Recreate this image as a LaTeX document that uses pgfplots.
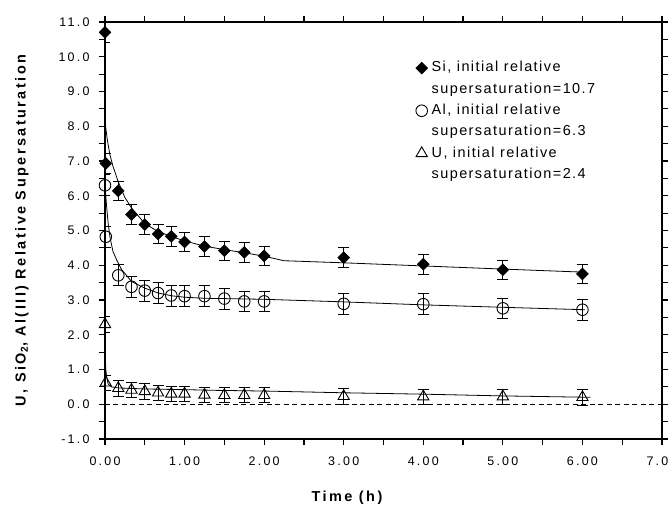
\documentclass[border=0pt]{standalone}
\usepackage{fontspec}
\setmainfont{Liberation Sans}
\usepackage{pgfplots}
\pgfplotsset{compat=1.18}
\begin{document}
\begin{tikzpicture}
\path (-105bp,-73bp) rectangle (566bp,439bp);
\begin{axis}[
 at={(0,0)}, anchor=south west,
 scale only axis, width=557bp, height=417bp,
 xmin=0, xmax=7, ymin=-1, ymax=11,
 xtick={0,1,...,7}, ytick={-1,0,...,11},
 minor x tick num=1, minor y tick num=1,
 tick align=outside, major tick length=6bp, minor tick length=6bp,
 every tick/.style={black, line width=1.2bp},
 axis line style={line width=1.6bp},
 /pgf/number format/assume math mode=true,
 x tick label style={/pgf/number format/.cd, fixed, fixed zerofill, precision=2, /tikz/.cd, overlay, yshift=-8bp},
 y tick label style={/pgf/number format/.cd, fixed, fixed zerofill, precision=1, /tikz/.cd, xshift=-6bp},
 tick label style={font=\fontsize{12.5}{14}\selectfont\addfontfeatures{LetterSpace=18}},
 xlabel={Time (h)},
 ylabel={U, SiO\textsubscript{2}, Al(III) Relative Supersaturation},
 label style={font=\fontsize{14.5}{16}\selectfont\bfseries\addfontfeatures{LetterSpace=17}},
 xlabel style={at={(axis description cs:0.4345,-0.1415)}, anchor=center, overlay},
 ylabel style={at={(axis description cs:-0.149,0.5)}, anchor=center},
 legend style={draw=none, fill=none, at={(0.553,0.906)}, anchor=north west, inner sep=0pt, row sep=7.8bp,
   column sep=4bp,
   font=\fontsize{14.5}{16}\selectfont\addfontfeatures{LetterSpace=10},
   nodes={inner sep=0pt, text height=10.5bp, text depth=3bp}},
 legend cell align=left,
]
% zero line
\addplot[forget plot, black, line width=0.7bp, dash pattern=on 5bp off 3.5bp] coordinates {(0,0) (7,0)};
% fitted curves
\addplot[forget plot, black, line width=0.8bp] coordinates {
(0.002,8.2) (0.01,7.95) (0.03,7.6) (0.06,7.2) (0.1,6.85) (0.167,6.4) (0.25,5.95) (0.333,5.65)
(0.5,5.2) (0.667,4.97) (0.833,4.83) (1.0,4.7) (1.25,4.55) (1.5,4.45) (1.75,4.36) (2.0,4.26)
(2.25,4.13) (3,4.07) (4,3.98) (5,3.89) (6.03,3.80)};
\addplot[forget plot, black, line width=0.8bp] coordinates {
(0.0,6.3) (0.02,5.7) (0.04,5.2) (0.063,4.8) (0.1,4.4) (0.147,4.15) (0.21,3.87) (0.335,3.53)
(0.5,3.34) (0.67,3.2) (0.84,3.12) (1.0,3.08) (1.25,3.05) (2.0,3.02) (2.95,2.95) (4,2.86)
(5,2.79) (6.03,2.72)};
\addplot[forget plot, black, line width=0.8bp] coordinates {
(0.0,1.6) (0.01,1.0) (0.02,0.8) (0.04,0.58) (0.08,0.5) (0.17,0.47) (0.5,0.44) (1.0,0.42)
(1.4,0.40) (2.0,0.38) (3,0.33) (4,0.29) (5,0.24) (6.1,0.20)};
% Si
\addplot[only marks, mark=square*, mark size=4.2bp, mark options={rotate=45, fill=black, line width=0.5bp},
  error bars/.cd, y dir=both, y fixed=0.28, error bar style={line width=0.8bp},
  error mark options={rotate=90, mark size=5.5bp, line width=0.8bp}] coordinates {
(0,10.7) (0.01,6.93) (0.167,6.14) (0.333,5.46) (0.5,5.17) (0.667,4.90) (0.833,4.83) (1.0,4.67)
(1.25,4.54) (1.5,4.42) (1.75,4.37) (2.0,4.27) (3,4.22) (4,4.03) (5,3.87) (6,3.75)};
\addlegendentry{Si, initial relative}
\addlegendimage{empty legend}\addlegendentry{supersaturation=10.7}
% Al
\addplot[only marks, mark=o, mark size=5.8bp, mark options={line width=0.9bp},
  error bars/.cd, y dir=both, y fixed=0.3, error bar style={line width=0.8bp},
  error mark options={rotate=90, mark size=5.5bp, line width=0.8bp}] coordinates {
(0,6.3) (0.01,4.82) (0.167,3.71) (0.333,3.38) (0.5,3.27) (0.667,3.20) (0.833,3.13) (1.0,3.11)
(1.25,3.11) (1.5,3.04) (1.75,2.96) (2.0,2.96) (3,2.89) (4,2.88) (5,2.76) (6,2.72)};
\addlegendentry{Al, initial relative}
\addlegendimage{empty legend}\addlegendentry{supersaturation=6.3}
% U
\addplot[only marks, mark=triangle, mark size=6.5bp, mark options={line width=0.9bp},
  error bars/.cd, y dir=both, y fixed=0.22, error bar style={line width=0.8bp},
  error mark options={rotate=90, mark size=5.5bp, line width=0.8bp}] coordinates {
(0,2.3) (0.01,0.62) (0.167,0.46) (0.333,0.41) (0.5,0.37) (0.667,0.33) (0.833,0.30) (1.0,0.30)
(1.25,0.27) (1.5,0.26) (1.75,0.26) (2.0,0.26) (3,0.23) (4,0.22) (5,0.22) (6,0.20)};
\addlegendentry{U, initial relative}
\addlegendimage{empty legend}\addlegendentry{supersaturation=2.4}
\end{axis}
\end{tikzpicture}
\end{document}
